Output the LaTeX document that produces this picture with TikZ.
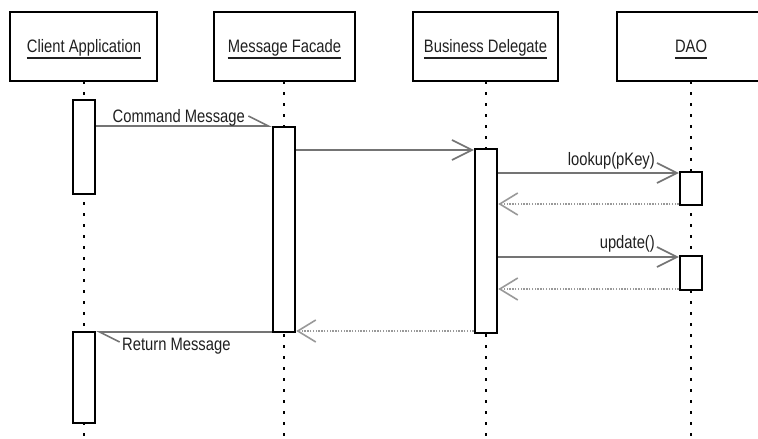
\documentclass[tikz,border=0pt]{standalone}
\usepackage{fontspec}
\setmainfont[FakeStretch=0.82]{Liberation Sans}
\usetikzlibrary{arrows.meta}
\definecolor{msggray}{HTML}{747474}
\definecolor{retgray}{HTML}{999999}
\definecolor{ink}{HTML}{202020}
\begin{document}
\begin{tikzpicture}[x=1pt,y=-1pt,
  font=\fontsize{18}{21}\selectfont,
  objbox/.style={draw=black,line width=2.5pt,fill=white,minimum height=69pt,inner sep=0pt},
  objname/.style={inner sep=0pt,anchor=base,text=ink},
  uline/.style={draw=ink,line width=1.4pt},
  lifeline/.style={draw=black,line width=2.8pt,dash pattern=on 2.8pt off 8.2pt},
  bar/.style={draw=black,line width=2.5pt,fill=white,minimum width=22pt,inner sep=0pt},
  msg/.style={draw=msggray,line width=1.6pt,-{Straight Barb[length=20pt,width=20pt,line width=1.6pt]}},
  halfmsg/.style={draw=msggray,line width=1.6pt,-{Straight Barb[left,length=20pt,width=20pt,line width=1.6pt]}},
  reply/.style={draw=retgray,line width=1.7pt,dash pattern=on 1.4pt off 1.4pt,-{Straight Barb[length=18pt,width=22pt,line width=1.6pt]}},
  msglabel/.style={inner sep=0pt,text=ink}]
\useasboundingbox (0,0) rectangle (758,439);
\fill[white] (0,0) rectangle (758,439);
\clip (0,0) rectangle (758,439);

% lifelines, drawn first so that bars and boxes sit on top
\coordinate (l1) at (84,81);  \coordinate (l1e) at (84,439);
\coordinate (l2) at (284,81); \coordinate (l2e) at (284,439);
\coordinate (l3) at (486,81); \coordinate (l3e) at (486,439);
\coordinate (l4) at (691,81); \coordinate (l4e) at (691,439);
\draw[lifeline] (l1) -- (l1e);
\draw[lifeline] (l2) -- (l2e);
\draw[lifeline] (l3) -- (l3e);
\draw[lifeline] (l4) -- (l4e);

% object boxes
\node[objbox,minimum width=147pt] (client) at (83.5,46.5) {};
\node[objbox,minimum width=141pt] (facade) at (284.5,46.5) {};
\node[objbox,minimum width=145pt] (delegate) at (485.5,46.5) {};
\node[objbox,minimum width=148pt] (dao) at (691,46.5) {};

\node[objname] (clientt) at (84,52) {Client Application};
\node[objname] (facadet) at (284.5,52) {Message Facade};
\node[objname] (delegatet) at (485.5,52) {Business Delegate};
\node[objname] (daot) at (691,52) {DAO};
\foreach \t in {clientt,facadet,delegatet,daot}
  \draw[uline] ([yshift=-6pt]\t.base west) -- ([yshift=-6pt]\t.base east);

% activation bars
\node[bar,minimum height=94pt]  (ca1) at (84,147) {};
\node[bar,minimum height=91pt]  (ca2) at (84,377.5) {};
\node[bar,minimum height=205pt] (mf)  at (284,229.5) {};
\node[bar,minimum height=184pt] (bd)  at (486,241) {};
\node[bar,minimum height=33pt]  (da1) at (691,188.5) {};
\node[bar,minimum height=34pt]  (da2) at (691,273) {};

% messages
\draw[halfmsg] (ca1.east |- 0,126) -- (mf.west |- 0,126);
\draw[msg] (mf.east |- 0,150) -- (bd.west |- 0,150);
\draw[msg] (bd.east |- 0,173) -- (da1.west |- 0,173);
\draw[reply] (da1.west |- 0,204) -- (bd.east |- 0,204);
\draw[msg] (bd.east |- 0,257) -- (da2.west |- 0,257);
\draw[reply] (da2.west |- 0,289) -- (bd.east |- 0,289);
\draw[reply] (bd.west |- 0,331) -- (mf.east |- 0,331);
\draw[halfmsg] (mf.west |- 0,332) -- (ca2.east |- 0,332);

% message labels
\node[msglabel,anchor=base east] (cmdl) at (245,122) {Command Message};
\node[msglabel,anchor=base east] (lkl) at (655,165) {lookup(pKey)};
\node[msglabel,anchor=base east] (upl) at (655,248) {update()};
\node[msglabel,anchor=base west] (retl) at (122,350) {Return Message};
\end{tikzpicture}
\end{document}
